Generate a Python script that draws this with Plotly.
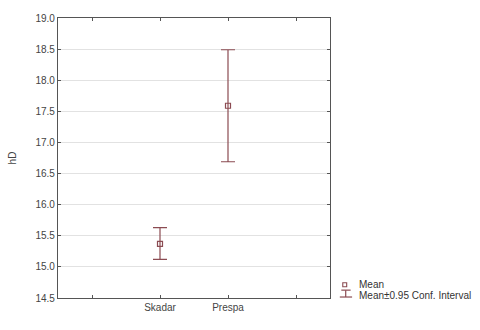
import plotly.graph_objects as go

# Group means of hD with 0.95 confidence limits
categories = ["", "Skadar", "Prespa", " "]
groups = ["Skadar", "Prespa"]
means = [15.37, 17.59]
ci_upper = [15.63, 18.49]
ci_lower = [15.12, 16.69]

COLOR = "#8B4B52"
FONT = "Liberation Sans, Arial, sans-serif"

fig = go.Figure()
fig.add_trace(go.Scatter(
    x=groups, y=means, mode="markers",
    marker=dict(symbol="square-open", size=5, color=COLOR, line=dict(width=1.2, color=COLOR)),
    error_y=dict(type="data", symmetric=False,
                 array=[u - m for u, m in zip(ci_upper, means)],
                 arrayminus=[m - l for m, l in zip(means, ci_lower)],
                 color=COLOR, thickness=1.2, width=7),
    showlegend=False,
))

# Plot area size in pixels, used to place the legend key in paper units
L, R, T, B = 53, 150, 13, 32
W, H = 480, 330
pw, ph = W - L - R, H - T - B

def px(x):
    return (x - L) / pw

def py(y):
    return (H - B - y) / ph

shapes = [
    # square key for the mean
    dict(type="rect", xref="paper", yref="paper",
         x0=px(343), x1=px(347), y0=py(286.5), y1=py(282.5),
         line=dict(color=COLOR, width=1.1), fillcolor="white"),
    # error-bar key for the confidence interval
    dict(type="line", xref="paper", yref="paper",
         x0=px(341.5), x1=px(351), y0=py(290), y1=py(290),
         line=dict(color=COLOR, width=1.2)),
    dict(type="line", xref="paper", yref="paper",
         x0=px(346), x1=px(346), y0=py(290), y1=py(297),
         line=dict(color=COLOR, width=1.2)),
    dict(type="line", xref="paper", yref="paper",
         x0=px(340), x1=px(352.5), y0=py(297), y1=py(297),
         line=dict(color=COLOR, width=1.2)),
]
annotations = [
    dict(text="Mean", xref="paper", yref="paper", x=px(357.5), y=py(284.5),
         xanchor="left", yanchor="middle", showarrow=False,
         font=dict(family=FONT, size=10, color="#333")),
    dict(text="Mean±0.95 Conf. Interval", xref="paper", yref="paper", x=px(357.5), y=py(295),
         xanchor="left", yanchor="middle", showarrow=False,
         font=dict(family=FONT, size=10, color="#333")),
]

fig.update_layout(
    width=W, height=H,
    margin=dict(l=L, r=R, t=T, b=B),
    paper_bgcolor="white", plot_bgcolor="white",
    font=dict(family=FONT, size=10, color="#444"),
    showlegend=False,
    shapes=shapes, annotations=annotations,
    xaxis=dict(type="category", categoryorder="array", categoryarray=categories,
               range=[-0.5, 3.5], tickvals=categories, ticktext=categories,
               showgrid=False, ticks="inside", ticklen=3, tickcolor="#555",
               showline=True, linecolor="#555", linewidth=1.3, mirror="ticks",
               zeroline=False, tickfont=dict(size=10, color="#444")),
    yaxis=dict(range=[14.5, 19.0], dtick=0.5, tickformat=".1f",
               showgrid=True, gridcolor="#e2e2e2", gridwidth=1,
               ticks="inside", ticklen=3, tickcolor="#555",
               showline=True, linecolor="#555", linewidth=1.3, mirror="ticks",
               zeroline=False, tickfont=dict(size=10, color="#444"),
               title=dict(text="hD", font=dict(size=10, color="#444"), standoff=16)),
)

fig.write_html("out.html")
